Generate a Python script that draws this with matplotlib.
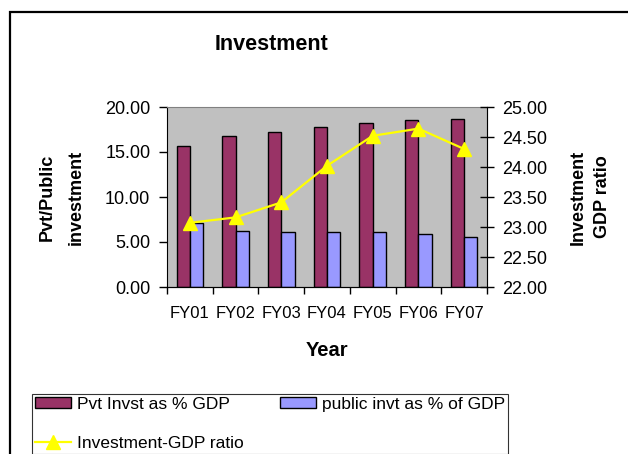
import numpy as np
import matplotlib
matplotlib.use('Agg')
import matplotlib.pyplot as plt
from matplotlib.patches import Rectangle

plt.rcParams['font.family'] = ['Liberation Sans', 'DejaVu Sans']

# data
years = ['FY01', 'FY02', 'FY03', 'FY04', 'FY05', 'FY06', 'FY07']
pvt_invst = [15.7, 16.8, 17.2, 17.8, 18.2, 18.6, 18.7]
public_invt = [7.15, 6.25, 6.1, 6.1, 6.1, 5.9, 5.6]
invst_gdp = [23.07, 23.16, 23.41, 24.02, 24.52, 24.64, 24.30]

W, H = 628, 454
fig = plt.figure(figsize=(W / 100, H / 100), dpi=100)

# outer chart frame (runs off right and bottom edges)
fig.patches.append(Rectangle((9.5 / W, -0.1), 1.0, (H - 12) / H + 0.1,
                             transform=fig.transFigure, fill=False,
                             edgecolor='black', linewidth=1.6))

ax = fig.add_axes([167 / W, 1 - 287 / H, 320 / W, 180 / H])
ax.set_facecolor('#C0C0C0')

x = np.arange(len(years))
bw = 0.29
b1 = ax.bar(x - bw / 2, pvt_invst, bw, color='#993366', edgecolor='black',
            linewidth=1.0, label='Pvt Invst as % GDP', zorder=2)
b2 = ax.bar(x + bw / 2, public_invt, bw, color='#9999FF', edgecolor='black',
            linewidth=1.0, label='public invt as % of GDP', zorder=2)

ax.set_xlim(-0.5, len(years) - 0.5)
ax.set_ylim(0, 20)
ax.set_yticks([0, 5, 10, 15, 20])
ax.set_yticklabels(['%.2f' % v for v in [0, 5, 10, 15, 20]], fontsize=13)
ax.set_xticks(x)
ax.set_xticklabels(years, fontsize=12)
ax.set_xticks(np.arange(-0.5, len(years)), minor=True)
ax.tick_params(axis='x', which='major', length=0, pad=14)
ax.tick_params(axis='x', which='minor', length=5, width=1, direction='out')
ax.tick_params(axis='y', length=6, width=1, direction='out', pad=6)
for s in ['top', 'right']:
    ax.spines[s].set_color('#808080')
ax.spines['left'].set_color('black')
ax.spines['bottom'].set_color('black')
ax.set_xlabel('Year', fontsize=14.5, fontweight='bold', labelpad=14)
ax.set_ylabel('Pvt/Public\ninvestment', fontsize=13, fontweight='bold',
              labelpad=15, linespacing=1.9)

ax2 = ax.twinx()
ln, = ax2.plot(x, invst_gdp, color='#FFFF00', linewidth=1.6, marker='^',
               markersize=9.5, markeredgecolor='#FFFF00',
               label='Investment-GDP ratio', zorder=3)
ax2.set_ylim(22, 25)
ax2.set_yticks(np.arange(22, 25.01, 0.5))
ax2.set_yticklabels(['%.2f' % v for v in np.arange(22, 25.01, 0.5)], fontsize=13)
ax2.tick_params(axis='y', length=10, width=1, direction='inout', pad=6)
ax2.spines['right'].set_color('black')
ax2.spines['top'].set_visible(False)
ax2.spines['left'].set_visible(False)
ax2.set_ylabel('Investment\nGDP ratio', fontsize=13, fontweight='bold',
               labelpad=16, linespacing=1.6)

fig.text(272 / W, 1 - 45 / H, 'Investment', fontsize=15.5, fontweight='bold',
         ha='center', va='center')

leg = fig.legend([b1, ln, b2],
                 ['Pvt Invst as % GDP', 'Investment-GDP ratio',
                  'public invt as % of GDP'],
                 ncol=2, loc='upper left',
                 bbox_to_anchor=(32 / W, 1 - 394 / H, 476 / W, 0.0),
                 mode='expand', fontsize=12.5, frameon=True, fancybox=False,
                 edgecolor='black', borderaxespad=0, handlelength=2.1,
                 handletextpad=0.35, handleheight=0.6, labelspacing=1.4,
                 borderpad=0.15, columnspacing=1.0)
leg.get_frame().set_linewidth(0.8)

fig.savefig('out.png', dpi=100)
